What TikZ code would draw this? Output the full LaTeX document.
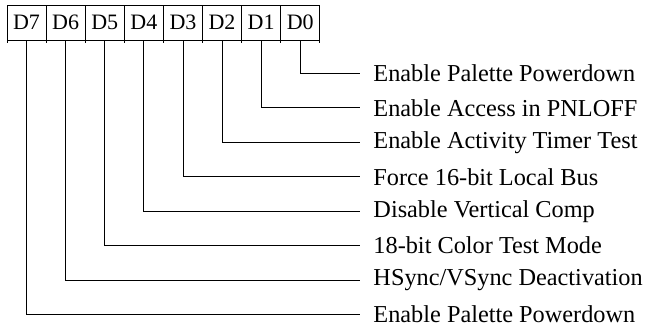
\documentclass[tikz,border=0pt]{standalone}
\usepackage{fontspec}
\setmainfont{Liberation Serif}
\begin{document}
\begin{tikzpicture}[x=1pt,y=-1pt,line width=0.9pt,
  cell/.style={draw,minimum width=39.1pt,minimum height=35pt,inner sep=0pt,font=\fontsize{22}{24}\selectfont},
  lbl/.style={anchor=west,inner sep=0pt,font=\fontsize{24.3}{27}\selectfont}]
\useasboundingbox (0,0) rectangle (647,325);
\foreach \b [count=\i from 0] in {7,6,5,4,3,2,1,0}{
  \node[cell] (d\b) at ({7+39.1*(\i+0.5)},22.5) {D\b};
}
\foreach \i in {0,...,8}{
  \draw ({7+39.1*\i},40) -- ({7+39.1*\i},43);
}
\foreach \b/\t in {0/{Enable Palette Powerdown},1/{Enable Access in PNLOFF},2/{Enable Activity Timer Test},3/{Force 16-bit Local Bus},4/{Disable Vertical Comp},5/{18-bit Color Test Mode},6/{HSync/VSync Deactivation},7/{Enable Palette Powerdown}}{
  \node[lbl] (l\b) at (373,{73.5+34.43*\b}) {\t};
  \draw (d\b.south) |- ([xshift=-13pt]l\b.west);
}
\end{tikzpicture}
\end{document}
